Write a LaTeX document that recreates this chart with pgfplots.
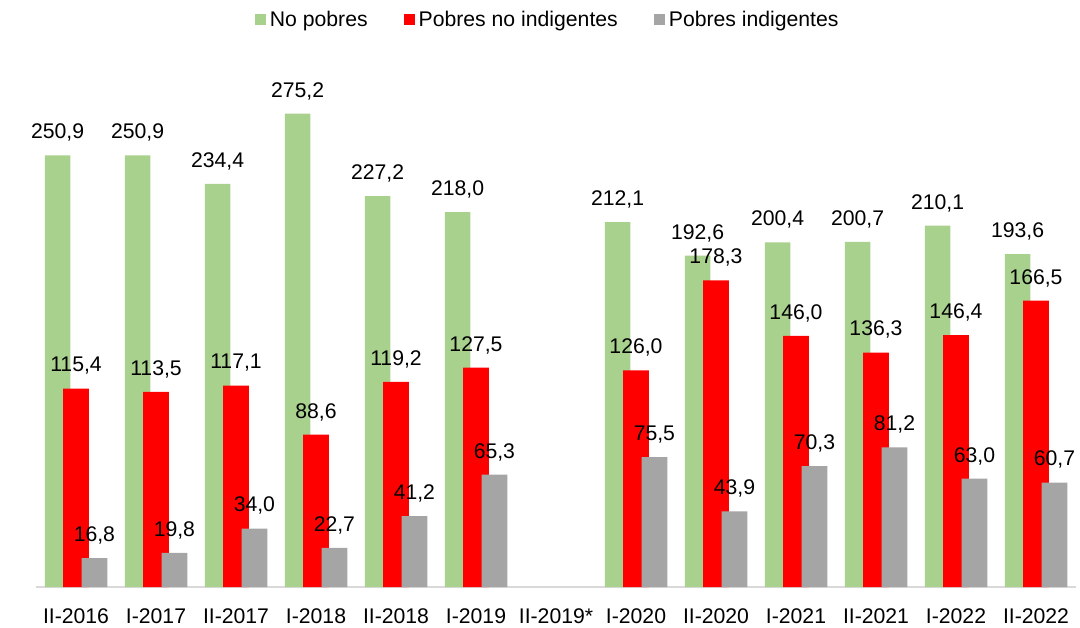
\documentclass[border=0pt]{standalone}
\usepackage{pgfplots}
\pgfplotsset{compat=1.18}
\usepackage{fontspec}
\setmainfont{Liberation Sans}
\definecolor{cgreen}{HTML}{A9D18E}
\definecolor{cred}{HTML}{FF0000}
\definecolor{cgray}{HTML}{A5A5A5}
\definecolor{caxis}{HTML}{D9D9D9}
\newcommand{\chartfont}{\fontsize{10.6pt}{12.5pt}\selectfont}
\begin{document}
\begin{tikzpicture}
\path[use as bounding box] (0,0) rectangle (540pt,313.5pt);
\begin{axis}[
  at={(18pt,20pt)}, anchor=south west,
  scale only axis, width=520pt, height=258pt,
  xmin=-0.5, xmax=12.5, ymin=0, ymax=300,
  axis x line=bottom, axis y line=none,
  x axis line style={-, draw=caxis, line width=1pt},
  xtick={0,...,12},
  xticklabels={II-2016,I-2017,II-2017,I-2018,II-2018,I-2019,II-2019*,I-2020,II-2020,I-2021,II-2021,I-2022,II-2022},
  major tick length=0pt,
  ytick=\empty,
  xticklabel style={font=\chartfont, anchor=base, yshift=-18pt},
  ylabel={-en miles de personas-},
  every axis y label/.style={at={(rel axis cs:-0.0067,0.486)}, rotate=90, anchor=center, font=\chartfont},
  ybar, bar width=12.85pt,
  nodes near coords={\pgfmathprintnumber[fixed,fixed zerofill,precision=1,use comma,assume math mode=true]{\pgfplotspointmeta}},
  every node near coord/.append style={font=\chartfont, anchor=base, yshift=8.3pt, text=black},
  legend style={at={(rel axis cs:0.493,1.099)}, anchor=center, draw=none, fill=none, legend columns=-1, font=\chartfont,
    /tikz/every even column/.append style={column sep=16pt}},
  legend image code/.code={\fill[#1] (0pt,-2.75pt) rectangle (5.5pt,2.75pt);},
  clip=false,
]
\addplot[fill=cgreen, draw=none, bar shift=-9.2pt] coordinates {
(0,250.9) (1,250.9) (2,234.4) (3,275.2) (4,227.2) (5,218.0)
(7,212.1) (8,192.6) (9,200.4) (10,200.7) (11,210.1) (12,193.6)};
\addlegendentry{No pobres}
\addplot[fill=cred, draw=none, bar shift=0pt] coordinates {
(0,115.4) (1,113.5) (2,117.1) (3,88.6) (4,119.2) (5,127.5)
(7,126.0) (8,178.3) (9,146.0) (10,136.3) (11,146.4) (12,166.5)};
\addlegendentry{Pobres no indigentes}
\addplot[fill=cgray, draw=none, bar shift=9.2pt] coordinates {
(0,16.8) (1,19.8) (2,34.0) (3,22.7) (4,41.2) (5,65.3)
(7,75.5) (8,43.9) (9,70.3) (10,81.2) (11,63.0) (12,60.7)};
\addlegendentry{Pobres indigentes}
\end{axis}
\end{tikzpicture}
\end{document}
